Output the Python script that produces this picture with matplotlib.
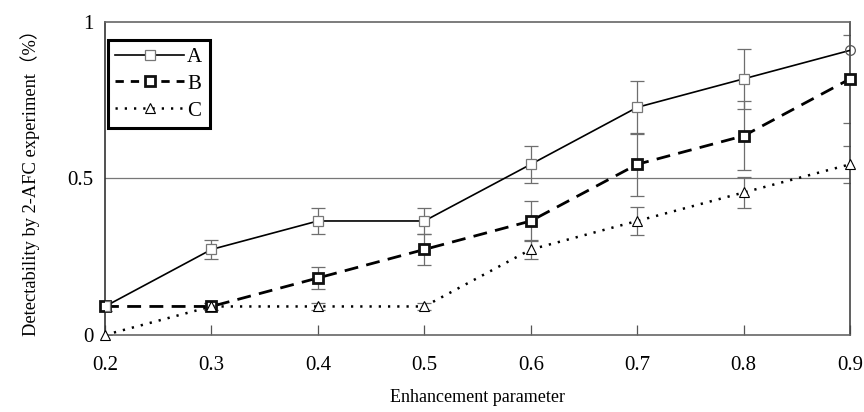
import matplotlib
matplotlib.use("Agg")
import matplotlib.pyplot as plt
from matplotlib.lines import Line2D

plt.rcParams['font.family'] = ['Liberation Serif', 'Noto Sans CJK JP']
plt.rcParams['font.size'] = 13

# data (steps of about 1/11)
x = [0.2, 0.3, 0.4, 0.5, 0.6, 0.7, 0.8, 0.9]
a_vals = [0.091, 0.273, 0.364, 0.364, 0.545, 0.727, 0.818, 0.909]
b_vals = [0.091, 0.091, 0.182, 0.273, 0.364, 0.545, 0.636, 0.818]
c_vals = [0.0, 0.091, 0.091, 0.091, 0.273, 0.364, 0.455, 0.545]
a_err = [0.015, 0.03, 0.04, 0.04, 0.06, 0.085, 0.095, 0.1]
b_err = [0.015, 0.01, 0.035, 0.05, 0.065, 0.1, 0.11, 0.14]
c_err = [0.0, 0.01, 0.01, 0.01, 0.03, 0.045, 0.05, 0.06]
x_ticks = [0.2, 0.3, 0.4, 0.5, 0.6, 0.7, 0.8, 0.9]
y_ticks = [0, 0.5, 1]

fig = plt.figure(figsize=(8.64, 4.12), dpi=100)
ax = fig.add_axes([0.1215, 0.187, 0.8625, 0.76])

# error bars first, grey and thin
for vals, err in [(a_vals, a_err), (b_vals, b_err), (c_vals, c_err)]:
    ax.errorbar(x, vals, yerr=err, fmt='none', ecolor='#6e6e6e',
                elinewidth=0.9, capsize=5, capthick=0.9, zorder=2)

ax.axhline(0.5, color='#777777', lw=0.9, zorder=1)

ax.plot(x, a_vals, color='black', lw=1.2, zorder=3)
ax.plot(x[:-1], a_vals[:-1], ls='none', marker='s', ms=6.5, mfc='white',
        mec='#777777', mew=0.9, zorder=4)
ax.plot(x[-1:], a_vals[-1:], ls='none', marker='o', ms=7, mfc='none',
        mec='#555555', mew=0.9, zorder=4, clip_on=False)
ax.plot(x, b_vals, color='black', lw=2, dashes=(5, 3), marker='s', ms=6.5,
        mfc='white', mec='#111111', mew=2, zorder=3, clip_on=False)
ax.plot(x, c_vals, color='black', lw=1.8, ls=(0, (0.9, 2.8)), marker='^', ms=7.5,
        mfc='white', mec='black', mew=0.8, zorder=3, clip_on=False)

ax.set_xlim(0.2, 0.9)
ax.set_ylim(0, 1)
ax.set_xticks(x_ticks)
ax.set_xticklabels([f"{t:.1f}" for t in x_ticks], fontsize=15)
ax.set_yticks(y_ticks)
ax.set_yticklabels(['0', '0.5', '1'], fontsize=15)
ax.tick_params(axis='x', direction='in', length=7, width=0.9, color='#555555', pad=15)
ax.tick_params(axis='y', length=0, pad=8)
for s in ax.spines.values():
    s.set_color('#666666')
    s.set_linewidth(1.2)
ax.spines['left'].set_color('#333333')
ax.spines['right'].set_color('#444444')

ax.set_xlabel('Enhancement parameter', labelpad=10)
ax.set_ylabel('Detectability by 2-AFC experiment（%）', labelpad=20, fontsize=13.3)

handles = [
    Line2D([], [], color='black', lw=1.2, marker='s', ms=6.5, mfc='white',
           mec='#777777', mew=0.9),
    Line2D([], [], color='black', lw=2, dashes=(3, 2.5), marker='s', ms=6.5,
           mfc='white', mec='#111111', mew=2),
    Line2D([], [], color='black', lw=1.8, ls=(0, (0.9, 2.8)), marker='^', ms=7.5,
           mfc='white', mec='black', mew=0.8),
]
leg = ax.legend(handles, ['A', 'B', 'C'], loc='upper left', fontsize=15,
                bbox_to_anchor=(0.004, 0.942), fancybox=False, framealpha=1,
                edgecolor='black', handlelength=3.3, handletextpad=0.15,
                borderpad=0.35, labelspacing=0.35, borderaxespad=0)
leg.get_frame().set_linewidth(2.2)

fig.savefig('out.png', dpi=100)
